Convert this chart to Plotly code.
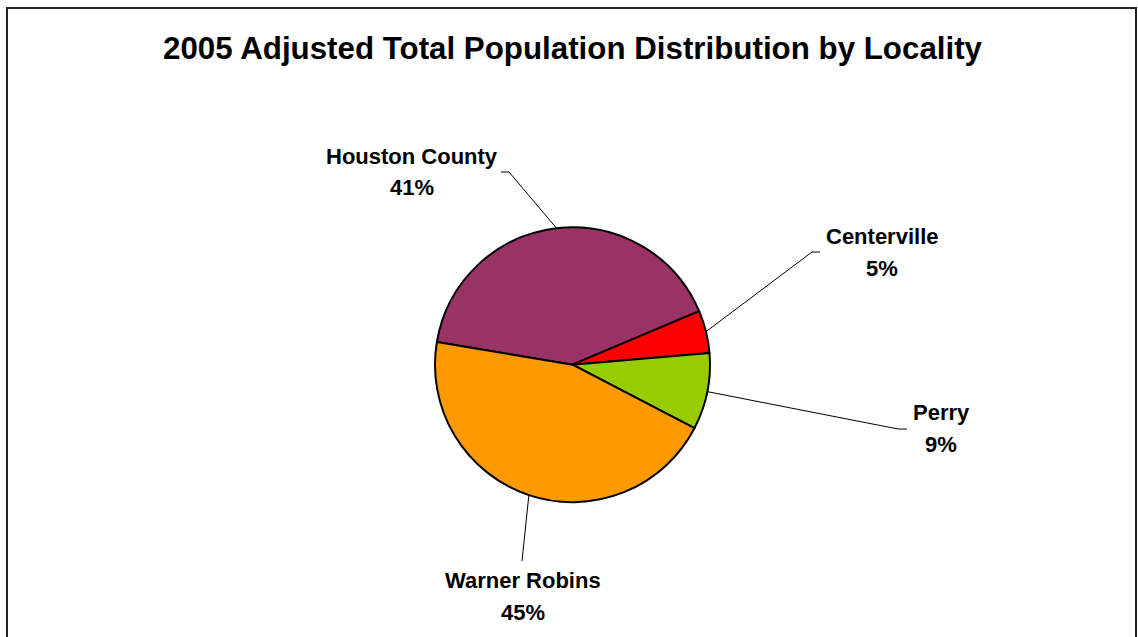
import math
import plotly.graph_objects as go

# Population share by locality (percent)
localities = ["Houston County", "Centerville", "Perry", "Warner Robins"]
shares = [41, 5, 9, 45]
slice_colors = ["#993366", "#FF0000", "#99CC00", "#FF9900"]

chart_title = "2005 Adjusted Total Population Distribution by Locality"

W, H = 1138, 637
CX, CY, R = 572.5, 364.7, 137.5   # pie centre and radius in pixels
ROTATION = -80.5                  # start of first slice, degrees clockwise from 12 o'clock
FONT = "Liberation Sans, Arial, sans-serif"

# label placement: text centre x, name line y, percent line y, leader bend, leader tail
label_layout = {
    "Houston County": dict(x=412, y1=156, y2=187, bend=(509, 172), tail=(501, 172)),
    "Centerville":    dict(x=882, y1=236, y2=268, bend=(812, 252), tail=(820, 252)),
    "Perry":          dict(x=941, y1=412, y2=444, bend=(898, 429), tail=(907, 429)),
    "Warner Robins":  dict(x=523, y1=580, y2=612, bend=(522, 561), tail=None),
}

fig = go.Figure()

fig.add_trace(go.Pie(
    labels=localities,
    values=shares,
    sort=False,
    direction="clockwise",
    rotation=ROTATION,
    marker=dict(colors=slice_colors, line=dict(color="black", width=2)),
    textinfo="none",
    hoverinfo="label+percent",
    showlegend=False,
    domain=dict(x=[(CX - R) / W, (CX + R) / W],
                y=[1 - (CY + R) / H, 1 - (CY - R) / H]),
))

annotations = [dict(
    x=CX, y=48, xref="x", yref="y", text=f"<b>{chart_title}</b>",
    showarrow=False, xanchor="center", yanchor="middle",
    font=dict(family=FONT, size=31.3, color="black"),
)]

total = sum(shares)
cum = 0.0
for name, val in zip(localities, shares):
    mid = math.radians(ROTATION + 360.0 * (cum + val / 2.0) / total)
    cum += val
    ex, ey = CX + R * math.sin(mid), CY - R * math.cos(mid)
    lay = label_layout[name]
    xs = [ex, lay["bend"][0]]
    ys = [ey, lay["bend"][1]]
    if lay["tail"] is not None:
        xs.append(lay["tail"][0])
        ys.append(lay["tail"][1])
    fig.add_trace(go.Scatter(
        x=xs, y=ys, mode="lines", line=dict(color="black", width=1),
        hoverinfo="skip", showlegend=False,
    ))
    pct = f"{round(100.0 * val / total)}%"
    for txt, yy in ((name, lay["y1"]), (pct, lay["y2"])):
        annotations.append(dict(
            x=lay["x"], y=yy, xref="x", yref="y", text=f"<b>{txt}</b>",
            showarrow=False, xanchor="center", yanchor="middle",
            font=dict(family=FONT, size=22, color="black"),
        ))

fig.update_layout(
    width=W, height=H, autosize=False,
    margin=dict(l=0, r=0, t=0, b=0),
    paper_bgcolor="white", plot_bgcolor="rgba(0,0,0,0)",
    xaxis=dict(range=[0, W], visible=False, fixedrange=True),
    yaxis=dict(range=[H, 0], visible=False, fixedrange=True),
    annotations=annotations,
    shapes=[dict(type="rect", xref="x", yref="y", x0=7, x1=1136, y0=8, y1=H + 10,
                 line=dict(color="#222222", width=2), fillcolor="rgba(0,0,0,0)",
                 layer="above")],
)

fig.write_html("out.html")
